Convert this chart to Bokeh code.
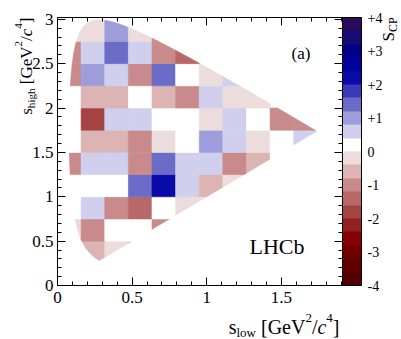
import numpy as np
from bokeh.plotting import figure
from bokeh.models import (ColumnDataSource, LinearColorMapper, ColorBar, FixedTicker,
                          LinearAxis, Label, Range1d)
from bokeh.embed import file_html
from bokeh.resources import INLINE

# ---------------- data ----------------
X_EDGES = [0.0, 0.1583, 0.3167, 0.475, 0.6333, 0.7917, 0.95, 1.1083, 1.2667, 1.425, 1.5833, 1.7417, 1.9]
Y_EDGES = [0.0, 0.25, 0.5, 0.75, 1.0, 1.25, 1.5, 1.75, 2.0, 2.25, 2.5, 2.75, 3.0]
N = None
# S_CP per s_high bin (bottom to top), one value per s_low bin
ROW_0 = [N, N, N, N, N, N, N, N, N, N, N, N]
ROW_1 = [-0.6, -0.6, -0.2, 0.6, N, N, N, N, N, N, N, N]
ROW_2 = [-0.2, -1.0, 0.2, 0.2, -1.0, N, N, N, N, N, N, N]
ROW_3 = [0.2, 0.6, -1.0, -1.4, 0.2, -0.2, -0.2, N, N, N, N, N]
ROW_4 = [0.2, 0.2, 0.2, 1.4, 2.2, 0.6, -0.6, -0.2, N, N, N, N]
ROW_5 = [-1.0, 0.6, 0.6, -1.0, 1.4, 0.6, 0.6, -1.0, -0.6, 0.2, N, N]
ROW_6 = [0.2, -0.6, -0.6, -1.0, -0.2, 0.2, 1.0, 0.6, -0.2, 0.2, 0.6, N]
ROW_7 = [0.2, -1.8, 0.6, 0.6, 0.2, 0.2, -0.2, 0.6, 0.2, -1.0, -1.0, N]
ROW_8 = [0.2, -0.6, -0.6, 0.2, -0.6, -1.0, 0.6, -0.2, -0.2, N, N, N]
ROW_9 = [-1.0, 1.0, 0.6, -1.0, 1.4, 0.2, -0.2, 0.6, N, N, N, N]
ROW_10 = [-1.0, 0.6, 1.4, 0.6, -1.0, -1.4, N, N, N, N, N, N]
ROW_11 = [-0.2, -0.2, 1.0, -0.2, -1.0, N, N, N, N, N, N, N]
S_CP = [ROW_0, ROW_1, ROW_2, ROW_3, ROW_4, ROW_5, ROW_6, ROW_7, ROW_8, ROW_9, ROW_10, ROW_11]

X_TICKS = [0, 0.5, 1, 1.5]
X_TICK_LABELS = ["0", "0.5", "1", "1.5"]
Y_TICKS = [0, 0.5, 1, 1.5, 2, 2.5, 3]
Y_TICK_LABELS = ["0", "0.5", "1", "1.5", "2", "2.5", "3"]
X_MINOR = [0.1, 0.2, 0.3, 0.4, 0.6, 0.7, 0.8, 0.9, 1.1, 1.2, 1.3, 1.4, 1.6, 1.7, 1.8, 1.9]
Y_MINOR = [0.1, 0.2, 0.3, 0.4, 0.6, 0.7, 0.8, 0.9, 1.1, 1.2, 1.3, 1.4, 1.6, 1.7, 1.8, 1.9,
           2.1, 2.2, 2.3, 2.4, 2.6, 2.7, 2.8, 2.9]
CB_TICKS = [-4, -3, -2, -1, 0, 1, 2, 3, 4]
CB_TICK_LABELS = ["-4", "-3", "-2", "-1", "0", "+1", "+2", "+3", "+4"]

PALETTE = ["#520000", "#610000", "#700000", "#850000", "#962020", "#a54242",
           "#b86868", "#c88a8a", "#dcb4b4", "#ecdcdc", "#ffffff", "#d0d0ee",
           "#9d9ddb", "#6b6bc8", "#3a3ab8", "#0a0aa8", "#00009a", "#000088",
           "#180a70", "#2a0a5a"]

# D+ -> pi- pi+ pi+ kinematics (folded Dalitz plot boundary)
M_D, M_PI = 1.86966, 0.13957


def s13_limits(s12):
    m2 = M_PI ** 2
    rs = np.sqrt(s12)
    e2 = rs / 2
    e3 = (M_D ** 2 - s12 - m2) / (2 * rs)
    p2 = np.sqrt(np.maximum(e2 ** 2 - m2, 0))
    p3 = np.sqrt(np.maximum(e3 ** 2 - m2, 0))
    return (e2 + e3) ** 2 - (p2 + p3) ** 2, (e2 + e3) ** 2 - (p3 - p2) ** 2


s_min = 4 * M_PI ** 2
s_tip = (M_D ** 2 - M_PI ** 2) / 2
t = np.linspace(0, 1, 500)
s12 = s_min + (s_tip - s_min) * t ** 2
lo, hi = s13_limits(s12)
lower = np.maximum(lo, s12)
REGION = list(zip(np.concatenate([s12, s12[::-1]]), np.concatenate([hi, lower[::-1]])))


def clip(poly, x0, x1, y0, y1):
    def edge(pts, inside, cut):
        out = []
        for k in range(len(pts)):
            cur, prev = pts[k], pts[k - 1]
            if inside(cur):
                if not inside(prev):
                    out.append(cut(prev, cur))
                out.append(cur)
            elif inside(prev):
                out.append(cut(prev, cur))
        return out

    def cx(a, b, xc):
        f = (xc - a[0]) / (b[0] - a[0])
        return (xc, a[1] + f * (b[1] - a[1]))

    def cy(a, b, yc):
        f = (yc - a[1]) / (b[1] - a[1])
        return (a[0] + f * (b[0] - a[0]), yc)

    pts = poly
    for inside, cut in [(lambda p: p[0] >= x0, lambda a, b: cx(a, b, x0)),
                        (lambda p: p[0] <= x1, lambda a, b: cx(a, b, x1)),
                        (lambda p: p[1] >= y0, lambda a, b: cy(a, b, y0)),
                        (lambda p: p[1] <= y1, lambda a, b: cy(a, b, y1))]:
        if not pts:
            return []
        pts = edge(pts, inside, cut)
    return pts


xs, ys, vals = [], [], []
for j, row in enumerate(S_CP):
    for i, v in enumerate(row):
        if v is None:
            continue
        poly = clip(REGION, X_EDGES[i], X_EDGES[i + 1], Y_EDGES[j], Y_EDGES[j + 1])
        if len(poly) < 3:
            continue
        xs.append([q[0] for q in poly])
        ys.append([q[1] for q in poly])
        vals.append(v)

src = ColumnDataSource(dict(xs=xs, ys=ys, v=vals))
mapper = LinearColorMapper(palette=PALETTE, low=-4, high=4)

# ---------------- figure geometry ----------------
XMAX, YMAX = 1.91, 3.02
CW, CH = 401, 339            # canvas
FL, FT, FW, FH = 57, 17, 285, 268   # data box inside canvas
PX_X = FW / XMAX
PX_Y = FH / YMAX
x_range = Range1d(-FL / PX_X, XMAX + (CW - FL - FW) / PX_X)
y_range = Range1d(-(CH - FT - FH) / PX_Y, YMAX + FT / PX_Y)

p = figure(frame_width=CW, frame_height=CH, x_range=x_range, y_range=y_range,
           x_axis_type=None, y_axis_type=None,
           output_backend="svg", toolbar_location=None, min_border=0)
p.xgrid.visible = False
p.ygrid.visible = False
p.background_fill_color = "white"
p.border_fill_color = "white"
p.outline_line_color = None

p.patches("xs", "ys", source=src, fill_color={"field": "v", "transform": mapper},
          line_color={"field": "v", "transform": mapper}, line_width=0.6)

FONT = "Liberation Serif"


def make_axis(side, loc, bounds, major, labels, minor, tick_len):
    ax = LinearAxis(fixed_location=loc, bounds=bounds)
    ax.ticker = FixedTicker(ticks=major, minor_ticks=minor)
    ax.major_tick_in = 8
    ax.major_tick_out = 0
    ax.minor_tick_in = tick_len
    ax.minor_tick_out = 0
    ax.axis_line_color = "black"
    ax.major_tick_line_color = "black"
    ax.minor_tick_line_color = "black"
    ax.major_label_text_font = FONT
    ax.major_label_text_font_size = "17px"
    ax.major_label_text_color = "black"
    if labels:
        ax.major_label_overrides = dict(zip(major, labels))
    p.add_layout(ax, side)
    return ax


bx = make_axis("below", 0, (0, XMAX), X_TICKS, X_TICK_LABELS, X_MINOR, 4)
bx.major_label_standoff = 6
ly = make_axis("left", 0, (0, YMAX), Y_TICKS, Y_TICK_LABELS, Y_MINOR, 4)
ly.major_label_standoff = 4
# top and right frame edges: ticks only (major-length ticks via a second tick set)
make_axis("above", YMAX, (0, XMAX), [], None, X_MINOR, 4)
make_axis("above", YMAX, (0, XMAX), [], None, X_TICKS, 8)
make_axis("right", XMAX, (0, YMAX), [], None, Y_MINOR, 4)
make_axis("right", XMAX, (0, YMAX), [], None, Y_TICKS, 8)

cb = ColorBar(color_mapper=mapper, ticker=FixedTicker(ticks=CB_TICKS),
              major_label_overrides=dict(zip(CB_TICKS, CB_TICK_LABELS)),
              width=19, height=FH, padding=0, margin=0, location=(FL + FW, CH - FT - FH),
              label_standoff=6, major_label_text_font=FONT, major_label_text_font_size="14px",
              major_label_text_color="black", major_tick_line_color=None,
              bar_line_color="black", bar_line_width=1, background_fill_color=None)
p.add_layout(cb)

# ---------------- texts ----------------
W = {'s': 0.389, 'l': 0.278, 'o': 0.5, 'w': 0.722, 'h': 0.5, 'i': 0.278, 'g': 0.5, ' ': 0.25,
     '[': 0.333, ']': 0.333, 'G': 0.722, 'e': 0.444, 'V': 0.722, '2': 0.5, '4': 0.5, '/': 0.278,
     'c': 0.444, 'S': 0.556, 'C': 0.667, 'P': 0.556}


def tw(text, size):
    return sum(W.get(ch, 0.5) for ch in text) * size


def pieces(sub):
    # (text, relative size, baseline shift in em, style); style None = spacing only
    return [("s", 1, 0, "normal"), (sub, 0.65, -0.28, "normal"), (" ", 1, 0, None),
            ("[GeV", 1, 0, "normal"), ("2", 0.65, 0.45, "normal"), ("/", 1, 0, "normal"),
            ("c", 1, 0, "italic"), ("4", 0.65, 0.45, "normal"), ("]", 1, 0, "normal")]


def horiz(parts, f, right_px, base_px):
    # px measured from data-box left / data-box bottom (positive up)
    total = sum(tw(tx, f * s) for tx, s, _, _ in parts)
    x = right_px - total
    for tx, s, sh, st in parts:
        if st is not None:
            p.add_layout(Label(x=x / PX_X, y=(base_px + sh * f) / PX_Y, text=tx, text_font=FONT,
                               text_font_size=f"{f * s:.1f}px", text_font_style=st,
                               text_align="left", text_baseline="alphabetic", text_color="black"))
        x += tw(tx, f * s)


def vert(parts, f, top_px, base_px):
    # rotated text reading upward
    total = sum(tw(tx, f * s) for tx, s, _, _ in parts)
    y = top_px - total
    for tx, s, sh, st in parts:
        if st is not None:
            p.add_layout(Label(x=(base_px - sh * f) / PX_X, y=y / PX_Y, text=tx, text_font=FONT,
                               text_font_size=f"{f * s:.1f}px", text_font_style=st, angle=np.pi / 2,
                               text_align="left", text_baseline="alphabetic", text_color="black"))
        y += tw(tx, f * s)


horiz(pieces("low"), 20, 282, -41)
vert(pieces("high"), 17, 268, -31)
vert([("S", 1, 0, "normal"), ("CP", 0.7, -0.28, "normal")], 17, 268, 331)

p.add_layout(Label(x=192 / PX_X, y=39 / PX_Y, text="LHCb", text_font=FONT, text_font_size="22px",
                   text_align="left", text_baseline="alphabetic", text_color="black"))
p.add_layout(Label(x=234 / PX_X, y=232 / PX_Y, text="(a)", text_font=FONT, text_font_size="17px",
                   text_align="left", text_baseline="alphabetic", text_color="black"))

open("out.html", "w").write(file_html(p, INLINE))
